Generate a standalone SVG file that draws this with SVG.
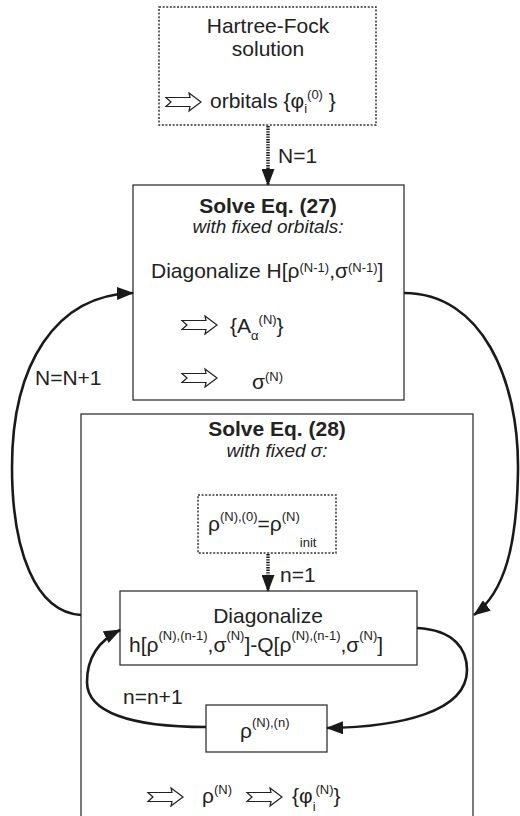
<svg xmlns="http://www.w3.org/2000/svg" width="520" height="816" viewBox="0 0 520 816">
<style>
text{font-family:"Liberation Sans",Arial,sans-serif;font-size:21px;fill:#222}
.b{font-weight:bold}
.i{font-style:italic;font-size:19px}
.s{font-size:13px}
.box{fill:#fff;stroke:#333;stroke-width:1.3}
.dbox{fill:#fff;stroke:#333;stroke-width:1.5;stroke-dasharray:2 1.6}
.con{fill:none;stroke:#1a1a1a;stroke-width:2.6}
.dcon{fill:none;stroke:#1a1a1a;stroke-width:3.5;stroke-dasharray:1.4 1.2}
.dar{fill:#fff;stroke:#222;stroke-width:1.2;stroke-linejoin:miter}
</style>
<defs>
<marker id="ah" markerUnits="userSpaceOnUse" markerWidth="17" markerHeight="13" refX="16" refY="6.5" orient="auto">
<path d="M0,0 L17,6.5 L0,13 Z" fill="#1a1a1a" stroke="none"/>
</marker>
<path id="darr" class="dar" d="M0,-4.5 H24 L23,-9 L35,0 L23,9 L24,4.5 H0 L5,0 Z"/>
</defs>

<g id="hf">
<rect class="dbox" x="159" y="7" width="217" height="118"/>
<text x="268" y="33" text-anchor="middle">Hartree-Fock</text>
<text x="268" y="56" text-anchor="middle">solution</text>
<use href="#darr" x="166" y="102"/>
<text x="210" y="108">orbitals {φ<tspan class="s" dy="5">i</tspan><tspan class="s" dy="-14">(0)</tspan><tspan dy="9"> }</tspan></text>
</g>

<g id="eq27">
<rect class="box" x="133" y="185" width="271" height="215"/>
<text class="b" x="268" y="213" text-anchor="middle">Solve Eq. (27)</text>
<text class="i" x="268" y="233" text-anchor="middle">with fixed orbitals:</text>
<text x="151" y="278">Diagonalize H[ρ<tspan class="s" dy="-6">(N-1)</tspan><tspan dy="6">,σ</tspan><tspan class="s" dy="-6">(N-1)</tspan><tspan dy="6">]</tspan></text>
<use href="#darr" x="182" y="325"/>
<text x="230" y="333">{A<tspan class="s" dy="7">α</tspan><tspan class="s" dy="-16">(N)</tspan><tspan dy="9">}</tspan></text>
<use href="#darr" x="182" y="378"/>
<text x="252" y="389">σ<tspan class="s" dy="-8">(N)</tspan></text>
</g>

<g id="eq28">
<rect class="box" x="81" y="414" width="392" height="420"/>
<text class="b" x="277" y="436" text-anchor="middle">Solve Eq. (28)</text>
<text class="i" x="277" y="457" text-anchor="middle">with fixed σ:</text>
<use href="#darr" x="148" y="797"/>
<text x="202" y="803">ρ<tspan class="s" dy="-9">(N)</tspan></text>
<use href="#darr" x="247" y="797"/>
<text x="292" y="803">{φ<tspan class="s" dy="8">i</tspan><tspan class="s" dy="-17">(N)</tspan><tspan dy="9">}</tspan></text>
</g>

<g id="init">
<rect class="dbox" x="198" y="495" width="138" height="58"/>
<text x="208" y="531">ρ<tspan class="s" dy="-10">(N),(0)</tspan><tspan dy="10">=ρ</tspan><tspan class="s" dy="-10">(N)</tspan><tspan class="s" font-size="12" dy="26">init</tspan></text>
</g>

<g id="diag">
<rect class="box" x="120" y="591" width="297" height="74"/>
<text x="268" y="623" text-anchor="middle">Diagonalize</text>
<text x="129" y="652">h[ρ<tspan class="s" dy="-12">(N),(n-1)</tspan><tspan dy="12">,σ</tspan><tspan class="s" dy="-12">(N)</tspan><tspan dy="12">]-Q[ρ</tspan><tspan class="s" dy="-12">(N),(n-1)</tspan><tspan dy="12">,σ</tspan><tspan class="s" dy="-12">(N)</tspan><tspan dy="12">]</tspan></text>
</g>

<g id="rhon">
<rect class="box" x="206" y="705" width="121" height="47"/>
<text x="240" y="738">ρ<tspan class="s" dy="-11">(N),(n)</tspan></text>
</g>

<g id="connectors">
<line class="dcon" x1="268" y1="126" x2="268" y2="185" marker-end="url(#ah)"/>
<text x="278" y="163">N=1</text>
<line class="dcon" x1="268" y1="554" x2="268" y2="591" marker-end="url(#ah)"/>
<text x="280" y="582">n=1</text>
<path class="con" d="M81,615 C35,612 12,550 12,467 C12,365 55,295 133,293" marker-end="url(#ah)"/>
<text x="35" y="385">N=N+1</text>
<path class="con" d="M404,293 C482,293 519,380 518,470 C517,545 505,592 474,615" marker-end="url(#ah)"/>
<path class="con" d="M417,628 C455,630 467,650 467,670 C467,712 400,727 327,728" marker-end="url(#ah)"/>
<path class="con" d="M206,727 C130,727 87,712 87,682 C87,656 100,640 120,630" marker-end="url(#ah)"/>
<text x="123" y="704">n=n+1</text>
</g>
</svg>
